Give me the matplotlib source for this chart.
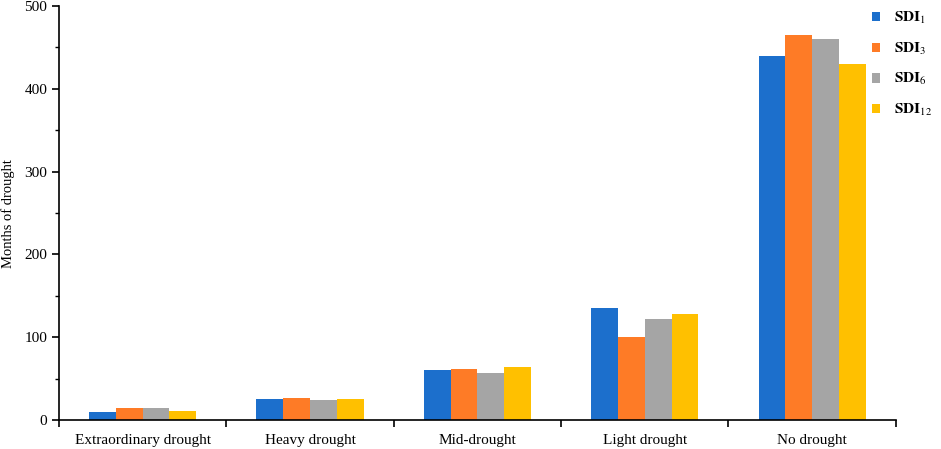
import numpy as np
import matplotlib.pyplot as plt
from matplotlib.ticker import MultipleLocator

plt.rcParams['font.family'] = ['Liberation Serif', 'DejaVu Serif']
plt.rcParams['mathtext.fontset'] = 'stix'

# --- data ---
categories = ['Extraordinary drought', 'Heavy drought', 'Mid-drought', 'Light drought', 'No drought']
sdi1 = [10, 25, 60, 135, 440]
sdi3 = [15, 26, 61, 100, 465]
sdi6 = [15, 24, 57, 122, 460]
sdi12 = [11, 25, 64, 128, 430]

series = [sdi1, sdi3, sdi6, sdi12]
labels = [r'$\mathbf{SDI}_{1}$', r'$\mathbf{SDI}_{3}$', r'$\mathbf{SDI}_{6}$', r'$\mathbf{SDI}_{12}$']
colors = ['#1c6fcc', '#fe7b26', '#a5a5a5', '#ffc000']

fig = plt.figure(figsize=(9.41, 4.49), dpi=100)
ax = fig.add_axes([0.0627, 0.0646, 0.8893, 0.922])

x = np.arange(len(categories))
w = 0.16
for i, (vals, lab, c) in enumerate(zip(series, labels, colors)):
    ax.bar(x + (i - 1.5) * w, vals, width=w, color=c, label=lab)

ax.set_xlim(-0.5, len(categories) - 0.5)
ax.set_ylim(0, 500)
ax.yaxis.set_major_locator(MultipleLocator(100))
ax.yaxis.set_minor_locator(MultipleLocator(50))

# category ticks at boundaries, labels centred
ax.set_xticks(np.arange(len(categories) + 1) - 0.5)
ax.set_xticklabels([])
ax.set_xticks(x, minor=True)
ax.set_xticklabels(categories, minor=True, fontsize=11)
ax.tick_params(axis='x', which='minor', length=0, pad=10)
ax.tick_params(axis='x', which='major', length=5, width=1.2)
ax.tick_params(axis='y', which='major', length=5, width=1.2, labelsize=11)
ax.tick_params(axis='y', which='minor', length=3, width=1.0)

for s in ['top', 'right']:
    ax.spines[s].set_visible(False)
for s in ['left', 'bottom']:
    ax.spines[s].set_linewidth(1.2)

fig.text(0.009, 0.525, 'Months of drought', rotation=90, fontsize=10.5,
         ha='center', va='center')

fig.legend(loc='upper right', bbox_to_anchor=(1.005, 1.008), frameon=False,
           handlelength=0.55, handleheight=0.55, handletextpad=0.9,
           labelspacing=0.95, fontsize=11)

fig.savefig('out.png', dpi=100)
